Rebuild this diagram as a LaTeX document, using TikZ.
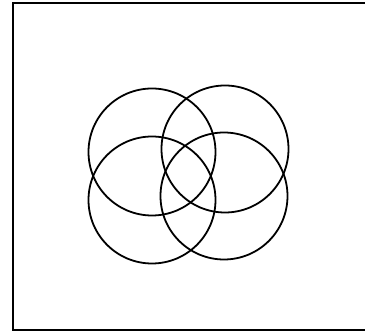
\documentclass[tikz,border=0pt]{standalone}
\begin{document}
\begin{tikzpicture}[x=1pt,y=-1pt,
    ring/.style={line width=1.8pt, black},
    frame/.style={line width=1.8pt, black}]
        \useasboundingbox (0,0) rectangle (365,336);
        \clip (0,0) rectangle (365,336);

        % outer frame, right side runs off the page
        \draw[frame] (13,3) rectangle (370,330);

        % four overlapping circles
        \foreach \cx/\cy in {152/152, 225/149, 152/200, 224/196}
          \draw[ring] (\cx,\cy) circle (63.5);
      \end{tikzpicture}
\end{document}
